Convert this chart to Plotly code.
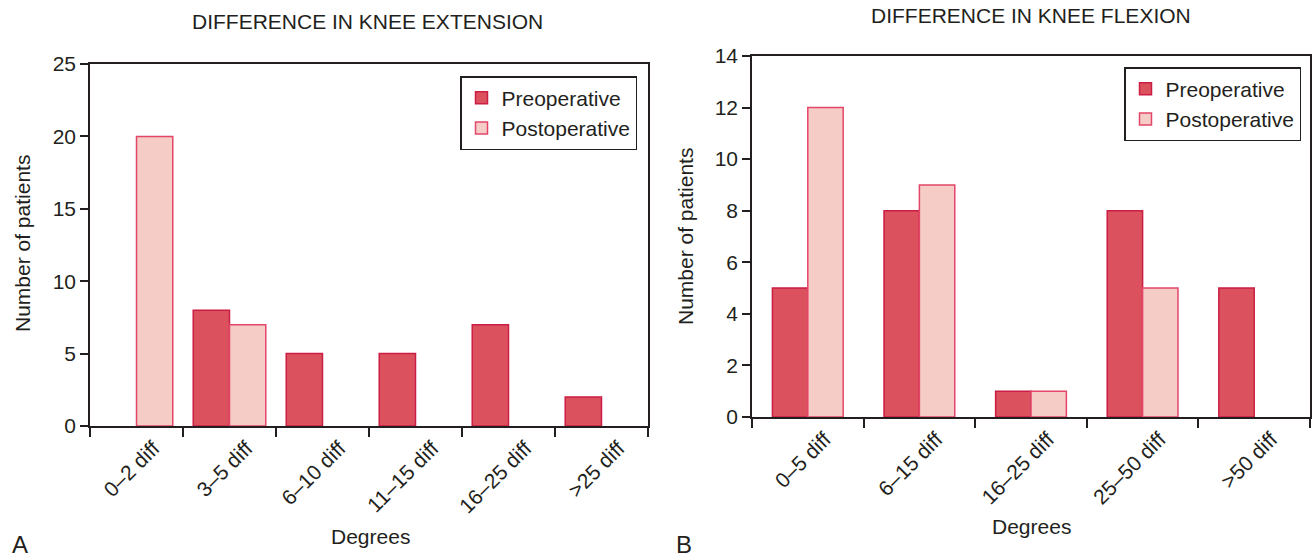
import plotly.graph_objects as go

# Knee range-of-motion differences, pre vs post operation
ext_categories = ["0–2 diff", "3–5 diff", "6–10 diff", "11–15 diff", "16–25 diff", ">25 diff"]
ext_preop = [0, 8, 5, 5, 7, 2]
ext_postop = [20, 7, 0, 0, 0, 0]

flex_categories = ["0–5 diff", "6–15 diff", "16–25 diff", "25–50 diff", ">50 diff"]
flex_preop = [5, 8, 1, 8, 5]
flex_postop = [12, 9, 1, 5, 0]

W, H = 1314, 560
FONT = "Liberation Sans, Arial, Helvetica, sans-serif"
INK = "#231f20"
PRE_FILL, PRE_LINE = "#db525e", "#cc1d44"
POST_FILL, POST_LINE = "#f5cdc6", "#e4466a"


def px_x(v):
    return v / W


def px_y(v):
    return 1 - v / H


def nonzero(values):
    # empty classes get no bar at all (avoids a flat outline on the baseline)
    return [v if v else None for v in values]


fig = go.Figure()

# Left panel: extension
w1 = 0.39
fig.add_trace(go.Bar(x=ext_categories, y=nonzero(ext_preop), name="Preoperative",
                     offset=-w1, width=w1, xaxis="x", yaxis="y",
                     marker=dict(color=PRE_FILL, line=dict(color=PRE_LINE, width=1.5)),
                     legend="legend"))
fig.add_trace(go.Bar(x=ext_categories, y=nonzero(ext_postop), name="Postoperative",
                     offset=0, width=w1, xaxis="x", yaxis="y",
                     marker=dict(color=POST_FILL, line=dict(color=POST_LINE, width=1.5)),
                     legend="legend"))

# Right panel: flexion
w2 = 0.317
fig.add_trace(go.Bar(x=flex_categories, y=nonzero(flex_preop), name="Preoperative",
                     offset=-w2, width=w2, xaxis="x2", yaxis="y2",
                     marker=dict(color=PRE_FILL, line=dict(color=PRE_LINE, width=1.5)),
                     legend="legend2"))
fig.add_trace(go.Bar(x=flex_categories, y=nonzero(flex_postop), name="Postoperative",
                     offset=0, width=w2, xaxis="x2", yaxis="y2",
                     marker=dict(color=POST_FILL, line=dict(color=POST_LINE, width=1.5)),
                     legend="legend2"))

xcommon = dict(type="category", tickson="boundaries", ticks="outside", ticklen=9,
               tickwidth=1.5, tickcolor=INK, tickangle=-45, ticklabelshift=17,
               showline=True, linecolor=INK, linewidth=1.5, mirror=True,
               showgrid=False, automargin=False,
               tickfont=dict(family=FONT, size=21, color=INK), fixedrange=True)
ycommon = dict(ticks="outside", ticklen=8, tickwidth=1.5, tickcolor=INK,
               showline=True, linecolor=INK, linewidth=1.5, mirror=True,
               showgrid=False, zeroline=False, automargin=False,
               tickfont=dict(family=FONT, size=21, color=INK), fixedrange=True)

legend_common = dict(bgcolor="white", bordercolor=INK, borderwidth=1.5,
                     font=dict(family=FONT, size=21, color=INK),
                     xanchor="right", yanchor="top", traceorder="normal",
                     itemclick=False, itemdoubleclick=False)

fig.update_layout(
    width=W, height=H,
    margin=dict(l=0, r=0, t=0, b=0, autoexpand=False),
    paper_bgcolor="white", plot_bgcolor="white",
    barmode="overlay",
    font=dict(family=FONT, color=INK),
    xaxis=dict(domain=[px_x(90), px_x(648)], anchor="y",
               categoryarray=ext_categories, categoryorder="array",
               range=[-0.5, len(ext_categories) - 0.5], **xcommon),
    yaxis=dict(domain=[px_y(426), px_y(64)], anchor="x",
               range=[0, 25], dtick=5, **ycommon),
    xaxis2=dict(domain=[px_x(752), px_x(1310)], anchor="y2",
                categoryarray=flex_categories, categoryorder="array",
                range=[-0.5, len(flex_categories) - 0.5], **xcommon),
    yaxis2=dict(domain=[px_y(417), px_y(56)], anchor="x2",
                range=[0, 14], dtick=2, **ycommon),
    legend=dict(x=px_x(637), y=px_y(76), **legend_common),
    legend2=dict(x=px_x(1301), y=px_y(67), **legend_common),
    showlegend=True,
)

notes = [
    ("DIFFERENCE IN KNEE EXTENSION", 367, 22, 21, 0),
    ("DIFFERENCE IN KNEE FLEXION", 1031, 15, 21, 0),
    ("Number of patients", 22, 244, 21, -90),
    ("Number of patients", 685, 237, 21, -90),
    ("Degrees", 370, 536, 21, 0),
    ("Degrees", 1031, 526, 21, 0),
    ("A", 20, 544, 24, 0),
    ("B", 684, 544, 24, 0),
]
for text, x, y, size, angle in notes:
    fig.add_annotation(text=text, x=px_x(x), y=px_y(y), xref="paper", yref="paper",
                       showarrow=False, xanchor="center", yanchor="middle",
                       textangle=angle, font=dict(family=FONT, size=size, color=INK))

fig.write_html("out.html")
